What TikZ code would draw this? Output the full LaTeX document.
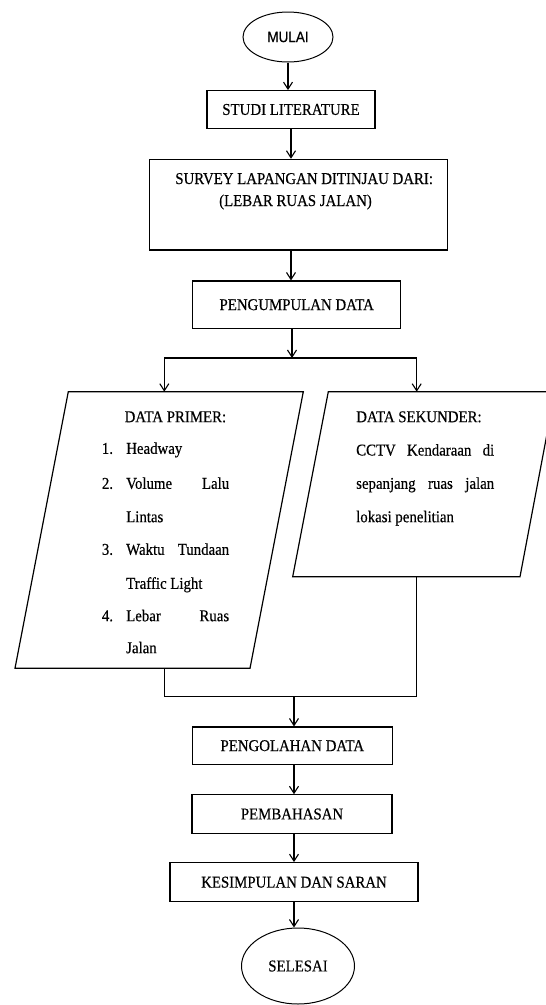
\documentclass[tikz,border=0pt]{standalone}
\usepackage{fontspec}
\setmainfont[FakeStretch=0.9,FakeBold=0.4]{Liberation Serif}
\newfontfamily\mulaifont[FakeStretch=0.9,FakeBold=0.4]{Liberation Sans}
\usetikzlibrary{arrows.meta,shapes.geometric}
\begin{document}
\begin{tikzpicture}[x=1pt,y=-1pt,
  font=\fontsize{16.5}{19}\selectfont,
  proc/.style={draw,line width=1.2pt,inner sep=0pt,rectangle},
  term/.style={draw,line width=1pt,inner sep=0pt,ellipse},
  txt/.style={inner sep=0pt},
  flowline/.style={line width=1.1pt},
  arr/.style={flowline,-{Straight Barb[length=7pt,width=9pt]}},
  para/.style={draw,line width=1.2pt,line join=miter}
]
\useasboundingbox (0,0) rectangle (546,1005);

% terminals and process boxes
\node[term,minimum width=90pt,minimum height=50pt] (mulai) at (288,37) {\mulaifont\fontsize{15}{17}\selectfont MULAI};
\node[proc,minimum width=168pt,minimum height=37.6pt] (studi) at (291,109.5) {STUDI LITERATURE};
\node[proc,minimum width=298pt,minimum height=90.7pt] (survey) at (298.3,204.7) {};
\node[txt,anchor=base] (sv1) at (304.2,184) {SURVEY LAPANGAN DITINJAU DARI:};
\node[txt,anchor=base] (sv2) at (295.5,206) {(LEBAR RUAS JALAN)};
\node[proc,minimum width=208pt,minimum height=47.3pt] (kumpul) at (296.7,304.7) {PENGUMPULAN DATA};

\node[proc,minimum width=200pt,minimum height=37.3pt] (olah) at (292.3,745.7) {PENGOLAHAN DATA};
\node[proc,minimum width=200pt,minimum height=38.3pt] (bahas) at (292,814) {PEMBAHASAN};
\node[proc,minimum width=248pt,minimum height=39pt] (simpul) at (294,882.2) {KESIMPULAN DAN SARAN};
\node[term,minimum width=113pt,minimum height=76pt] (selesai) at (298,966) {SELESAI};

% parallelograms (data)
\draw[para] (68.3,391.7) -- (303.3,391.7) -- (250,668.3) -- (15,668.3) -- cycle;
\draw[para] (328.3,391.7) -- (555,391.7) -- (520,576.7) -- (292.7,576.7) -- cycle;
\coordinate (pltop) at (164.3,391.7);
\coordinate (plbot) at (164.3,668.3);
\coordinate (prtop) at (416.7,391.7);
\coordinate (prbot) at (416.7,576.7);

% left data text
\node[txt,anchor=base] (dp) at (175.4,422.2) {DATA PRIMER:};
\node[txt,anchor=base west] (n1) at (101.7,453.8) {1.};
\node[txt,anchor=base west] (i1) at (126,453.8) {Headway};
\node[txt,anchor=base west] (n2) at (101.7,488.8) {2.};
\node[txt,anchor=base west] (i2) at (126,488.8) {\makebox[103pt][s]{Volume Lalu}};
\node[txt,anchor=base west] (i2b) at (126,522.2) {Lintas};
\node[txt,anchor=base west] (n3) at (101.7,554.8) {3.};
\node[txt,anchor=base west] (i3) at (126,554.8) {\makebox[103pt][s]{Waktu Tundaan}};
\node[txt,anchor=base west] (i3b) at (126,588.8) {Traffic Light};
\node[txt,anchor=base west] (n4) at (101.7,621.2) {4.};
\node[txt,anchor=base west] (i4) at (126,621.2) {\makebox[103pt][s]{Lebar Ruas}};
\node[txt,anchor=base west] (i4b) at (126,653.2) {Jalan};

% right data text
\node[txt,anchor=base west] (ds) at (356,422.2) {DATA SEKUNDER:};
\node[txt,anchor=base west] (r1) at (356,455.5) {\makebox[138pt][s]{CCTV Kendaraan di}};
\node[txt,anchor=base west] (r2) at (356,488.8) {\makebox[138pt][s]{sepanjang ruas jalan}};
\node[txt,anchor=base west] (r3) at (356,522.2) {lokasi penelitian};

% connectors
\coordinate (split) at (292,358);
\coordinate (splitL) at (164.3,358);
\coordinate (splitR) at (416.7,358);
\coordinate (mL) at (164.3,696.7);
\coordinate (mR) at (416.7,696.7);
\coordinate (mC) at (294,696.7);

\draw[arr] (mulai.south) -- (mulai.south |- studi.north);
\draw[arr] (studi.south) -- (studi.south |- survey.north);
\draw[arr] (studi.south |- survey.south) -- (studi.south |- kumpul.north);
\draw[arr] (kumpul.south -| split) -- (split);
\draw[flowline] (splitL) -- (splitR);
\draw[arr] (splitL) -- (pltop);
\draw[arr] (splitR) -- (prtop);
\draw[flowline] (plbot) -- (mL) -- (mR) -- (prbot);
\draw[arr] (mC) -- (mC |- olah.north);
\draw[arr] (mC |- olah.south) -- (mC |- bahas.north);
\draw[arr] (mC |- bahas.south) -- (mC |- simpul.north);
\draw[arr] (mC |- simpul.south) -- (mC |- selesai.north);
\end{tikzpicture}
\end{document}
